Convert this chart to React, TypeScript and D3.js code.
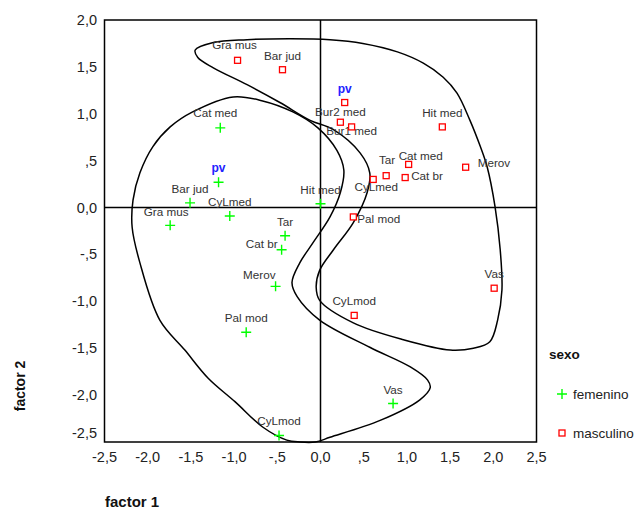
import * as d3 from "d3";
import React from "react";

// factor scores, sexo = femenino
const femNames = ["Cat med", "pv", "Bar jud", "CyLmed", "Gra mus", "Hit med", "Tar", "Cat br", "Merov", "Pal mod", "Vas", "CyLmod"];
const femF1 = [-1.16, -1.18, -1.51, -1.05, -1.74, 0.0, -0.41, -0.45, -0.52, -0.86, 0.84, -0.48];
const femF2 = [0.85, 0.27, 0.05, -0.09, -0.19, 0.04, -0.3, -0.45, -0.84, -1.33, -2.09, -2.43];

// factor scores, sexo = masculino
const mascNames = ["Gra mus", "Bar jud", "pv", "Bur2 med", "Bur1 med", "Hit med", "Cat med", "Tar", "CyLmed", "Cat br", "Merov", "Pal mod", "CyLmod", "Vas"];
const mascF1 = [-0.96, -0.44, 0.28, 0.23, 0.36, 1.41, 1.02, 0.76, 0.61, 0.98, 1.68, 0.38, 0.39, 2.01];
const mascF2 = [1.57, 1.47, 1.12, 0.91, 0.86, 0.86, 0.46, 0.34, 0.3, 0.32, 0.43, -0.1, -1.15, -0.86];

// hand drawn outlines (factor units)
const outlineFemF1 = [-1.01, -0.68, -0.32, -0.03, 0.19, 0.27, 0.23, 0.11, -0.09, -0.24, -0.33, -0.27, -0.01, 0.57, 1.04, 1.24, 1.27, 1.15, 0.69, 0.11, -0.06, -0.24, -0.39, -0.67, -0.99, -1.3, -1.57, -1.86, -2.09, -2.18, -2.17, -2.09, -1.94, -1.74, -1.48];
const outlineFemF2 = [1.18, 1.14, 1.02, 0.85, 0.61, 0.4, 0.16, -0.1, -0.38, -0.59, -0.8, -0.95, -1.2, -1.49, -1.7, -1.84, -1.92, -2.05, -2.27, -2.45, -2.5, -2.5, -2.48, -2.34, -2.07, -1.82, -1.52, -1.2, -0.59, -0.21, 0.08, 0.37, 0.65, 0.86, 1.02];
const outlineMascF1 = [-1.45, -1.24, -0.85, -0.35, 0.11, 0.49, 0.89, 1.19, 1.42, 1.58, 1.73, 1.85, 1.93, 2.02, 2.08, 2.1, 2.05, 1.96, 1.77, 1.5, 0.96, 0.38, -0.01, -0.05, -0.01, 0.15, 0.38, 0.54, 0.57, 0.46, 0.15, -0.12, -0.47, -0.85, -1.24, -1.42];
const outlineMascF2 = [1.68, 1.76, 1.79, 1.8, 1.79, 1.75, 1.66, 1.54, 1.39, 1.22, 0.93, 0.65, 0.43, 0.01, -0.45, -0.88, -1.2, -1.43, -1.5, -1.52, -1.41, -1.23, -0.99, -0.85, -0.67, -0.45, -0.16, 0.16, 0.37, 0.58, 0.83, 0.93, 1.12, 1.31, 1.49, 1.6];

const xTicks = [-2.5, -2.0, -1.5, -1.0, -0.5, 0.0, 0.5, 1.0, 1.5, 2.0, 2.5];
const yTicks = [2.0, 1.5, 1.0, 0.5, 0.0, -0.5, -1.0, -1.5, -2.0, -2.5];

// label placement tweaks (SPSS moves overlapping labels)
const nudge: Record<string, { dx: number; dy: number; anchor?: string }> = {
  "f|Cat med": { dx: -5, dy: -15 },
  "f|Gra mus": { dx: -4, dy: -13 },
  "f|Cat br": { dx: -4, dy: -6, anchor: "end" },
  "f|Merov": { dx: 0, dy: -11, anchor: "end" },
  "m|Gra mus": { dx: -3, dy: -15 },
  "m|Bur2 med": { dx: 0, dy: -10 },
  "m|Bur1 med": { dx: 0, dy: 4 },
  "m|Cat med": { dx: -10, dy: -8, anchor: "start" },
  "m|Tar": { dx: 1, dy: -16 },
  "m|CyLmed": { dx: 3, dy: 8 },
  "m|Cat br": { dx: 6, dy: -2, anchor: "start" },
  "m|Merov": { dx: 12, dy: -4, anchor: "start" },
  "m|Pal mod": { dx: 4, dy: 2, anchor: "start" },
};

const font = "Arial, 'Liberation Sans', sans-serif";

const fmt = (v: number) => {
  const s = d3.format(".1f")(Math.abs(v)).replace(".", ",");
  const t = Math.abs(v) < 1 && v !== 0 ? s.slice(1) : s;
  return (v < 0 ? "-" : "") + t;
};

function Plus({ x, y }: { x: number; y: number }) {
  return <path d={`M${x - 5},${y}H${x + 5}M${x},${y - 5}V${y + 5}`} stroke="#00ff00" strokeWidth={1.4} fill="none" />;
}

function Square({ x, y }: { x: number; y: number }) {
  return <rect x={x - 3} y={y - 3} width={6} height={6} stroke="#ff0000" strokeWidth={1.3} fill="#fff" />;
}

export default function App() {
  const width = 636;
  const height = 509;
  const x = d3.scaleLinear().domain([-2.5, 2.5]).range([104.5, 536.5]);
  const y = d3.scaleLinear().domain([-2.5, 2.0]).range([442, 20]);

  const line = d3
    .line<[number, number]>()
    .x((d) => x(d[0]))
    .y((d) => y(d[1]))
    .curve(d3.curveCatmullRomClosed.alpha(0.5));

  const femOutline = line(outlineFemF1.map((v, i) => [v, outlineFemF2[i]]));
  const mascOutline = line(outlineMascF1.map((v, i) => [v, outlineMascF2[i]]));

  const label = (g: string, name: string, px: number, py: number) => {
    const n = nudge[`${g}|${name}`] || { dx: 0, dy: -14 };
    const isPv = name === "pv";
    return (
      <text
        key={`${g}l${name}`}
        x={px + n.dx}
        y={py + n.dy + 4}
        textAnchor={n.anchor || "middle"}
        fontSize={isPv ? 12 : 11.7}
        fontWeight={isPv ? "bold" : "normal"}
        fill={isPv ? "#2222ff" : "#333"}
      >
        {name}
      </text>
    );
  };

  return (
    <svg width={width} height={height} style={{ position: "absolute", left: 0, top: 0, background: "#fff" }} fontFamily={font}>
      <rect x={104.5} y={20} width={432} height={422} fill="none" stroke="#000" strokeWidth={1.5} />
      <line x1={x(0)} x2={x(0)} y1={20} y2={442} stroke="#000" strokeWidth={1.5} />
      <line x1={104.5} x2={536.5} y1={y(0)} y2={y(0)} stroke="#000" strokeWidth={1.5} />

      <path d={femOutline || ""} fill="none" stroke="#000" strokeWidth={1.5} />
      <path d={mascOutline || ""} fill="none" stroke="#000" strokeWidth={1.5} />

      {xTicks.map((t) => (
        <text key={`x${t}`} x={x(t)} y={462} textAnchor="middle" fontSize={14.5} fill="#222">
          {fmt(t)}
        </text>
      ))}
      {yTicks.map((t) => (
        <text key={`y${t}`} x={97} y={Math.min(y(t) + 5, 438)} textAnchor="end" fontSize={14.5} fill="#222">
          {fmt(t)}
        </text>
      ))}

      {femNames.map((n, i) => label("f", n, x(femF1[i]), y(femF2[i])))}
      {mascNames.map((n, i) => label("m", n, x(mascF1[i]), y(mascF2[i])))}
      {femNames.map((n, i) => (
        <Plus key={`fp${i}`} x={x(femF1[i])} y={y(femF2[i])} />
      ))}
      {mascNames.map((n, i) => (
        <Square key={`mp${i}`} x={x(mascF1[i])} y={y(mascF2[i])} />
      ))}

      <text x={105} y={507} fontSize={15} fontWeight="bold" fill="#111">factor 1</text>
      <text transform="translate(25,386) rotate(-90)" textAnchor="middle" fontSize={14} fontWeight="bold" fill="#111">factor 2</text>

      <text x={549} y={359} fontSize={13.5} fontWeight="bold" fill="#111">sexo</text>
      <Plus x={562} y={394} />
      <text x={573} y={399} fontSize={13.5} fill="#222">femenino</text>
      <Square x={562} y={433} />
      <text x={573} y={438} fontSize={13.5} fill="#222">masculino</text>
    </svg>
  );
}
